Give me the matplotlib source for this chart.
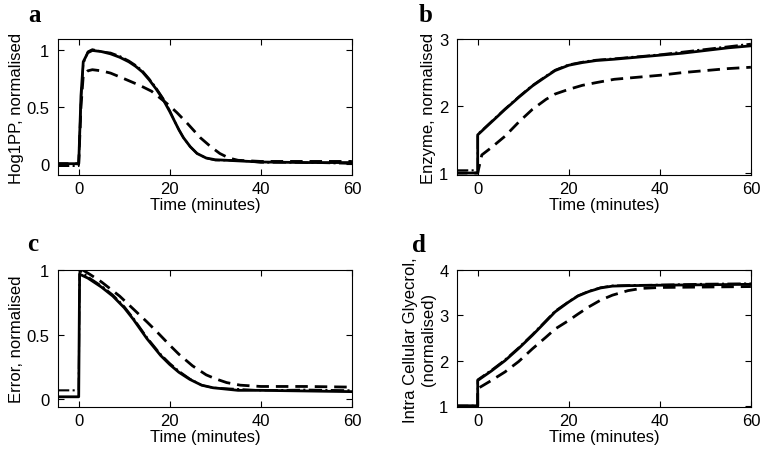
import numpy as np
import matplotlib
matplotlib.use('Agg')
import matplotlib.pyplot as plt

plt.rcParams['font.family'] = ['Liberation Sans', 'DejaVu Sans']

# panel a: Hog1PP (model, data, alternative model)
ta = [-5, 0, 0.5, 1, 2, 3, 5, 7, 9, 11, 12.5, 14, 15.5, 17, 18.5, 20, 21, 22, 23, 24.5, 26, 28, 30, 35, 40, 50, 60]
ya_solid = [0, 0, 0.6, 0.9, 0.98, 1.0, 0.99, 0.97, 0.94, 0.9, 0.86, 0.81, 0.74, 0.66, 0.57, 0.46, 0.38, 0.3, 0.23, 0.15, 0.09, 0.05, 0.035, 0.025, 0.015, 0.01, 0.01]
ya_data = [-0.02, -0.02, 0.55, 0.88, 0.99, 1.01, 0.99, 0.98, 0.95, 0.91, 0.87, 0.82, 0.75, 0.67, 0.58, 0.47, 0.38, 0.3, 0.23, 0.15, 0.09, 0.05, 0.03, 0.03, 0.01, 0.01, 0.0]
tad = [-5, 0, 0.5, 1, 2, 3, 5, 7, 10, 13.5, 16, 18.5, 20, 21.6, 24, 26.7, 29, 31, 33, 35, 40, 50, 60]
ya_dash = [0, 0, 0.5, 0.78, 0.82, 0.83, 0.82, 0.8, 0.75, 0.69, 0.64, 0.56, 0.51, 0.45, 0.35, 0.23, 0.15, 0.09, 0.05, 0.03, 0.02, 0.02, 0.02]

# panel b: enzyme
tb = [-5, 0, 0, 3, 6, 9, 12, 15, 17, 20, 23, 26, 30, 35, 40, 45, 50, 55, 60]
yb_solid = [1.0, 1.0, 1.57, 1.76, 1.95, 2.13, 2.3, 2.44, 2.53, 2.61, 2.65, 2.68, 2.7, 2.73, 2.76, 2.79, 2.83, 2.87, 2.9]
yb_data = [1.04, 1.04, 1.58, 1.77, 1.96, 2.14, 2.31, 2.45, 2.54, 2.62, 2.66, 2.69, 2.71, 2.74, 2.77, 2.81, 2.85, 2.89, 2.93]
tbd = [-5, 0, 0.9, 3, 6, 9, 12, 15, 17, 20, 23, 26, 30, 35, 40, 45, 50, 55, 60]
yb_dash = [1.0, 1.0, 1.27, 1.38, 1.55, 1.76, 1.95, 2.1, 2.18, 2.25, 2.31, 2.35, 2.4, 2.43, 2.46, 2.5, 2.53, 2.56, 2.58]

# panel c: error
tc = [-5, 0, 0.2, 2, 5, 7.5, 10, 12, 15, 18, 20, 22, 24.4, 27, 29.5, 35, 40, 50, 60]
yc_solid = [0.02, 0.02, 0.97, 0.94, 0.87, 0.8, 0.71, 0.62, 0.47, 0.34, 0.27, 0.21, 0.155, 0.11, 0.09, 0.07, 0.07, 0.065, 0.06]
yc_data = [0.07, 0.07, 1.0, 0.95, 0.88, 0.81, 0.72, 0.63, 0.48, 0.35, 0.28, 0.22, 0.16, 0.11, 0.09, 0.08, 0.07, 0.075, 0.07]
tcd = [1, 2.4, 5, 9, 12, 15, 17, 20, 22, 25, 28, 30, 32.5, 35.5, 40, 50, 60]
yc_dash = [1.0, 0.97, 0.91, 0.8, 0.7, 0.6, 0.53, 0.42, 0.35, 0.26, 0.19, 0.16, 0.13, 0.11, 0.1, 0.1, 0.095]

# panel d: intracellular glycerol
td = [-5, 0, 0, 3, 6, 9, 12, 15, 17, 20, 22, 24.4, 27, 29.6, 33, 40, 50, 60]
yd_solid = [1.0, 1.0, 1.56, 1.77, 2.0, 2.27, 2.56, 2.87, 3.08, 3.3, 3.43, 3.53, 3.61, 3.65, 3.66, 3.67, 3.68, 3.69]
yd_data = [1.0, 1.0, 1.58, 1.79, 2.02, 2.29, 2.58, 2.89, 3.1, 3.31, 3.44, 3.54, 3.62, 3.66, 3.67, 3.68, 3.7, 3.71]
tdd = [0, 0, 0.5, 3, 6, 9, 12, 15, 17, 20, 22, 24.4, 27, 29.6, 33, 36, 40, 50, 60]
yd_dash = [1.0, 1.38, 1.41, 1.56, 1.75, 1.98, 2.26, 2.52, 2.7, 2.89, 3.03, 3.19, 3.34, 3.45, 3.55, 3.6, 3.62, 3.63, 3.64]

panels = [
    ('a', [0.076, 0.614, 0.387, 0.298], ta, ya_solid, ya_data, tad, ya_dash,
     'Hog1PP, normalised', (-0.1, 1.1), [0, 0.5, 1], ['0', '0.5', '1'], (28, 22)),
    ('b', [0.601, 0.614, 0.387, 0.298], tb, yb_solid, yb_data, tbd, yb_dash,
     'Enzyme, normalised', (0.97, 3.0), [1, 2, 3], ['1', '2', '3'], (419, 22)),
    ('c', [0.076, 0.105, 0.387, 0.300], tc, yc_solid, yc_data, tcd, yc_dash,
     'Error, normalised', (-0.06, 1.0), [0, 0.5, 1], ['0', '0.5', '1'], (27, 251)),
    ('d', [0.601, 0.105, 0.387, 0.300], td, yd_solid, yd_data, tdd, yd_dash,
     'Intra Cellular Glyecrol,\n(normalised)', (0.97, 4.0), [1, 2, 3, 4], ['1', '2', '3', '4'], (412, 252)),
]

fig = plt.figure(figsize=(7.6, 4.56), dpi=100)

for letter, pos, t, ys, yexp, tdsh, ydsh, ylab, ylim, yt, ytl, lpos in panels:
    ax = fig.add_axes(pos)
    ax.plot(t, ys, color='black', lw=2.0, solid_joinstyle='round')
    ax.plot(t, yexp, color='black', lw=1.5, ls='-.')
    ax.plot(tdsh, ydsh, color='black', lw=2.0, ls=(0, (4.5, 2.5)))
    ax.set_xlim(-4.6, 60)
    ax.set_ylim(*ylim)
    ax.set_xticks([0, 20, 40, 60])
    ax.set_yticks(yt)
    ax.set_yticklabels(ytl)
    ax.tick_params(direction='in', top=True, right=True, labelsize=12,
                   length=4, width=0.8)
    ax.tick_params(axis='x', pad=4)
    ax.tick_params(axis='y', pad=6)
    ax.set_xlabel('Time (minutes)', fontsize=12, labelpad=1)
    ax.set_ylabel(ylab, fontsize=12, labelpad=2, linespacing=1.3)
    for s in ax.spines.values():
        s.set_linewidth(0.8)
    fig.text(lpos[0] / 760, 1 - lpos[1] / 456, letter,
             family=['Liberation Serif', 'DejaVu Serif'], fontweight='bold',
             fontsize=18, va='baseline', ha='left')

fig.savefig('out.png', dpi=100)
